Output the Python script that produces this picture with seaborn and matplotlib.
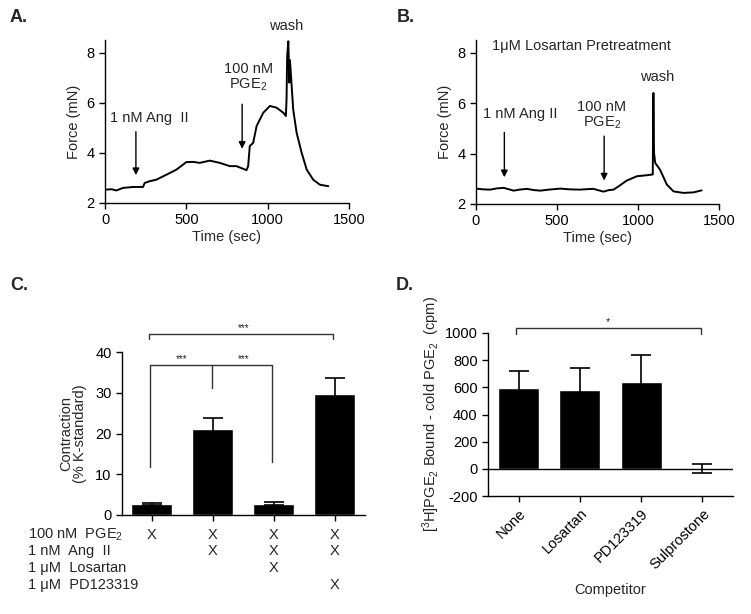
import numpy as np
import pandas as pd
import matplotlib
matplotlib.use("Agg")
import matplotlib.pyplot as plt
import seaborn as sns

# panel A trace (time in sec, force in mN)
a_time = [0, 40, 70, 110, 172, 234, 244, 275, 316, 378, 439, 500, 542, 583, 644,
          706, 767, 808, 870, 880, 890, 911, 932, 973, 1014, 1055, 1096, 1112,
          1116, 1120, 1127, 1133, 1137, 1157, 1178, 1209, 1240, 1280, 1321, 1373]
a_force = [2.53, 2.55, 2.5, 2.6, 2.64, 2.64, 2.8, 2.87, 2.93, 3.13, 3.33, 3.63, 3.64,
           3.6, 3.69, 3.6, 3.47, 3.47, 3.31, 3.47, 4.27, 4.4, 5.07, 5.6, 5.87, 5.8,
           5.6, 5.47, 6.13, 7.87, 8.45, 6.8, 7.7, 5.73, 4.8, 4.0, 3.33, 2.93, 2.73, 2.67]

# panel B trace
b_time = [0, 45, 88, 130, 171, 232, 270, 314, 360, 397, 450, 520, 580, 643, 690,
          725, 787, 820, 849, 880, 931, 993, 1054, 1091, 1095, 1099, 1106, 1136,
          1178, 1219, 1280, 1342, 1393]
b_force = [2.61, 2.58, 2.57, 2.62, 2.64, 2.53, 2.57, 2.6, 2.55, 2.53, 2.57, 2.61,
           2.58, 2.57, 2.59, 2.6, 2.49, 2.55, 2.57, 2.7, 2.93, 3.1, 3.14, 3.17,
           6.4, 4.03, 3.63, 3.36, 2.77, 2.5, 2.44, 2.46, 2.54]

# panel C bars
c_groups = ['PGE2', 'PGE2+AngII', 'PGE2+AngII+Losartan', 'PGE2+AngII+PD123319']
c_mean = [2.6, 21.0, 2.8, 29.6]
c_sem = [0.25, 2.9, 0.3, 4.1]
c_rows = ['100 nM  PGE$_2$', '1 nM  Ang  II', '1 \u03bcM  Losartan', '1 \u03bcM  PD123319']
c_pge2 = [1, 1, 1, 1]
c_ang = [0, 1, 1, 1]
c_losartan = [0, 0, 1, 0]
c_pd = [0, 0, 0, 1]

# panel D bars
d_groups = ['None', 'Losartan', 'PD123319', 'Sulprostone']
d_mean = [593, 579, 638, 3]
d_sem = [125, 161, 201, 35]

sns.set_style("ticks")
plt.rcParams['font.family'] = ['Liberation Sans', 'DejaVu Sans']
plt.rcParams['mathtext.fontset'] = 'custom'
plt.rcParams['mathtext.rm'] = 'Liberation Sans'
plt.rcParams['mathtext.it'] = 'Liberation Sans:italic'
plt.rcParams['axes.unicode_minus'] = False
plt.rcParams['axes.linewidth'] = 1.0
plt.rcParams['xtick.major.width'] = 1.0
plt.rcParams['ytick.major.width'] = 1.0
plt.rcParams['xtick.major.size'] = 4
plt.rcParams['ytick.major.size'] = 4
plt.rcParams['xtick.color'] = 'black'
plt.rcParams['ytick.color'] = 'black'
plt.rcParams['axes.edgecolor'] = 'black'

W, H = 751, 614
fig = plt.figure(figsize=(W / 100, H / 100), dpi=100)


def px_axes(left, top, right, bottom):
    return fig.add_axes([left / W, 1 - bottom / H, (right - left) / W, (bottom - top) / H])


fs = 10.5

# ---------- A ----------
axA = px_axes(105, 40, 349, 203)
sns.lineplot(x=a_time, y=a_force, ax=axA, color='black', lw=1.4, sort=False)
axA.set_xlim(0, 1500)
axA.set_ylim(2, 8.5)
axA.set_xticks([0, 500, 1000, 1500])
axA.set_yticks([2, 4, 6, 8])
axA.set_xlabel('Time (sec)', fontsize=fs, labelpad=2)
axA.set_ylabel('Force (mN)', fontsize=fs, labelpad=4)
axA.tick_params(labelsize=fs)
sns.despine(ax=axA)
arrow = dict(arrowstyle='-|>', color='black', lw=1.0, mutation_scale=10)
axA.annotate('', xy=(190, 3.0), xytext=(190, 4.95), arrowprops=arrow)
axA.text(270, 5.4, '1 nM Ang  II', ha='center', va='center', fontsize=fs)
axA.annotate('', xy=(843, 4.05), xytext=(843, 6.05), arrowprops=arrow)
axA.text(880, 7.0, '100 nM\nPGE$_2$', ha='center', va='center', fontsize=fs, linespacing=1.1)
axA.text(1116, 9.05, 'wash', ha='center', va='center', fontsize=fs)

# ---------- B ----------
axB = px_axes(476, 40, 719, 204)
sns.lineplot(x=b_time, y=b_force, ax=axB, color='black', lw=1.4, sort=False)
axB.set_xlim(0, 1500)
axB.set_ylim(2, 8.5)
axB.set_xticks([0, 500, 1000, 1500])
axB.set_yticks([2, 4, 6, 8])
axB.set_xlabel('Time (sec)', fontsize=fs, labelpad=2)
axB.set_ylabel('Force (mN)', fontsize=fs, labelpad=4)
axB.tick_params(labelsize=fs)
sns.despine(ax=axB)
axB.annotate('', xy=(175, 2.95), xytext=(175, 4.95), arrowprops=arrow)
axB.text(273, 5.55, '1 nM Ang II', ha='center', va='center', fontsize=fs)
axB.annotate('', xy=(791, 2.82), xytext=(791, 4.8), arrowprops=arrow)
axB.text(777, 5.5, '100 nM\nPGE$_2$', ha='center', va='center', fontsize=fs, linespacing=1.1)
axB.text(1116, 7.05, 'wash', ha='center', va='center', fontsize=fs)
axB.text(649, 8.25, '1\u03bcM Losartan Pretreatment', ha='center', va='center', fontsize=fs)

# ---------- C ----------
axC = px_axes(122, 352, 365, 515)
sns.barplot(x=c_groups, y=c_mean, ax=axC, color='black', width=0.67,
            errorbar=None, saturation=1)
axC.errorbar(range(len(c_groups)), c_mean, yerr=c_sem, fmt='none', ecolor='black',
             elinewidth=1.2, capsize=7.5, capthick=1.2)
axC.set_xlim(-0.49, 3.5)
axC.set_ylim(0, 40)
axC.set_yticks([0, 10, 20, 30, 40])
axC.set_xticklabels([])
axC.set_ylabel('Contraction\n(% K-standard)', fontsize=fs, labelpad=6, linespacing=1.0)
axC.tick_params(labelsize=fs)
sns.despine(ax=axC)

br = dict(color='#333333', lw=1.0, clip_on=False)
axC.plot([-0.03, -0.03, 1.98, 1.98], [11.9, 36.8, 36.8, 13.0], **br)
axC.plot([0.99, 0.99], [36.8, 31.1], **br)
axC.plot([-0.04, -0.04, 2.97, 2.97], [43.1, 44.4, 44.4, 43.1], **br)
for sx, sy in [(0.49, 37.0), (1.5, 37.0), (1.5, 44.6)]:
    axC.text(sx, sy, '***', ha='center', va='bottom', fontsize=7)

row_y = [535, 551, 568, 585]
for label, yy in zip(c_rows, row_y):
    fig.text(28 / W, 1 - yy / H, label, ha='left', va='center', fontsize=fs)
for flags, yy in zip([c_pge2, c_ang, c_losartan, c_pd], row_y):
    for i, f in enumerate(flags):
        if f:
            axC.text(i, -(yy - 515) / 163 * 40, 'X', ha='center', va='center',
                     fontsize=fs, clip_on=False)

# ---------- D ----------
axD = px_axes(488, 333, 733, 496)
sns.barplot(x=d_groups, y=d_mean, ax=axD, color='black', width=0.67,
            errorbar=None, saturation=1)
axD.errorbar(range(len(d_groups)), d_mean, yerr=d_sem, fmt='none', ecolor='black',
             elinewidth=1.2, capsize=7.5, capthick=1.2)
axD.axhline(0, color='black', lw=1.0)
axD.set_xlim(-0.5, 3.5)
axD.set_ylim(-200, 1000)
axD.set_yticks(range(-200, 1001, 200))
axD.set_xticklabels(d_groups, rotation=45, ha='right', rotation_mode='anchor', fontsize=fs)
axD.set_xlabel('Competitor', fontsize=fs, labelpad=8)
axD.set_ylabel('[$^3$H]PGE$_2$ Bound - cold PGE$_2$  (cpm)', fontsize=fs, labelpad=2)
axD.tick_params(labelsize=fs)
sns.despine(ax=axD)
axD.plot([-0.05, -0.05, 2.97, 2.97], [993, 1034, 1034, 993], **br)
axD.text(1.46, 1045, '*', ha='center', va='bottom', fontsize=8)

# panel letters
for letter, x, y in [('A.', 10, 18), ('B.', 397, 18), ('C.', 10, 285), ('D.', 396, 285)]:
    fig.text(x / W, 1 - y / H, letter, fontsize=13, fontweight='bold', ha='left', va='center')

fig.savefig('out.png', dpi=100)
